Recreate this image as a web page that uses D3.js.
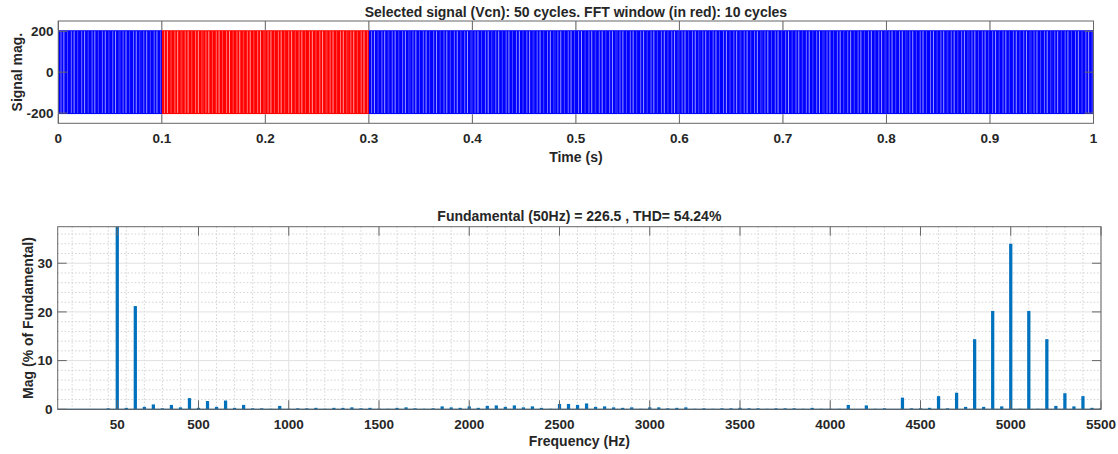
<!DOCTYPE html>
<html>
<head>
<meta charset="utf-8">
<script src="https://cdn.jsdelivr.net/npm/d3@7/dist/d3.min.js"></script>
<style>
  body { margin: 0; background: #fff; }
  text { font-family: "Liberation Sans", Arial, Helvetica, sans-serif; font-weight: bold; fill: #262626; }
</style>
</head>
<body>
<svg id="chart" width="1118" height="454"></svg>
<script>
// ---------- Data ----------
const timeTicks = [0, 0.1, 0.2, 0.3, 0.4, 0.5, 0.6, 0.7, 0.8, 0.9, 1];
const signalTicks = [-200, 0, 200];
const signalLevels = [-200, 200];
const fundamentalHz = 50;
const cycleCount = 50;
const fftWindow = [0.1, 0.3];            // seconds, drawn in red
// light stripes inside one 20 ms cycle (ms) and how bright they look
const gapOffsetsMs = [2.6, 5.4, 8.9, 12.6, 15.3, 18.7];
const gapStrength = [0.45, 0.6, 0.3, 0.45, 0.6, 0.3];

const freqTicks = [50, 500, 1000, 1500, 2000, 2500, 3000, 3500, 4000, 4500, 5000, 5500];
const magTicks = [0, 10, 20, 30];
const binStepHz = 50;
// harmonic magnitude (% of fundamental), one per 50 Hz bin from 0 to 5500 Hz
const harmonicMag = [
  0.2, 100, 0.3, 21.2, 0.5, 1.0, 0.2, 0.9, 0.4, 2.3,   // 0 - 450
  0.3, 1.7, 0.5, 1.8, 0.3, 0.9, 0.2, 0.2, 0.1, 0.7,    // 500 - 950
  0.1, 0.2, 0.2, 0.3, 0.1, 0.3, 0.3, 0.4, 0.2, 0.3,    // 1000 - 1450
  0.1, 0.1, 0.3, 0.4, 0.2, 0.1, 0.2, 0.6, 0.4, 0.3,    // 1500 - 1950
  0.6, 0.3, 0.7, 0.8, 0.5, 0.8, 0.4, 0.6, 0.3, 0.1,    // 2000 - 2450
  1.1, 1.1, 0.9, 1.2, 0.5, 0.6, 0.4, 0.3, 0.4, 0.1,    // 2500 - 2950
  0.4, 0.4, 0.2, 0.3, 0.4, 0.1, 0.2, 0.1, 0.2, 0.2,    // 3000 - 3450
  0.3, 0.2, 0.2, 0.1, 0.2, 0.2, 0.2, 0.1, 0.3, 0.1,    // 3500 - 3950
  0.1, 0.1, 0.9, 0.05, 0.8, 0.1, 0.2, 0.05, 2.4, 0.2,  // 4000 - 4450
  0.2, 0.3, 2.7, 0.2, 3.4, 0.5, 14.4, 0.5, 20.2, 0.6,  // 4500 - 4950
  34.0, 0.1, 20.2, 0.1, 14.4, 0.7, 3.3, 0.6, 2.7, 0.3, // 5000 - 5450
  0.2                                                  // 5500
];
const harmonicHz = harmonicMag.map((_, i) => i * binStepHz);

// ---------- Setup ----------
const svg = d3.select('#chart');
const boxColor = '#666666';
const gridColor = '#e1e1e1';
const minorColor = '#d2d2d2';
const tickLen = 9;
const tickFont = 13.5;
const labelFont = 14;

// =================== Top: time signal ===================
const topBox = { left: 58.3, right: 1093.5, top: 21, bottom: 123.3 };
const xT = d3.scaleLinear().domain([0, 1]).range([topBox.left, topBox.right]);
const yT = d3.scaleLinear().domain([-250, 250]).range([topBox.bottom, topBox.top]);

const gTop = svg.append('g');

// grid
gTop.append('g').selectAll('line').data(timeTicks).join('line')
  .attr('x1', d => xT(d)).attr('x2', d => xT(d))
  .attr('y1', topBox.top).attr('y2', topBox.bottom)
  .attr('stroke', gridColor);
gTop.append('g').selectAll('line').data(signalTicks).join('line')
  .attr('x1', topBox.left).attr('x2', topBox.right)
  .attr('y1', d => yT(d)).attr('y2', d => yT(d))
  .attr('stroke', gridColor);

// signal band, one block per cycle
const cycleSec = 1 / fundamentalHz;
const cycles = d3.range(cycleCount).map(i => i * cycleSec);
const inWindow = t => t >= fftWindow[0] - 1e-9 && t < fftWindow[1] - 1e-9;

gTop.append('g').selectAll('rect').data(cycles).join('rect')
  .attr('x', d => xT(d))
  .attr('width', xT(cycleSec) - xT(0) + 0.3)
  .attr('y', yT(signalLevels[1]) - 1)
  .attr('height', yT(signalLevels[0]) - yT(signalLevels[1]) + 2)
  .attr('fill', d => inWindow(d) ? '#ff0000' : '#0000ff');

// light stripes where the PWM pulses are long
const gaps = [];
cycles.forEach(c => gapOffsetsMs.forEach((o, k) => gaps.push({ t: c + o / 1000, a: gapStrength[k] })));
gTop.append('g').selectAll('line').data(gaps).join('line')
  .attr('x1', d => xT(d.t)).attr('x2', d => xT(d.t))
  .attr('y1', yT(signalLevels[1])).attr('y2', yT(signalLevels[0]))
  .attr('stroke', '#ffffff')
  .attr('stroke-opacity', d => d.a)
  .attr('stroke-width', 1);

// ticks (inside) and box
gTop.append('g').selectAll('path').data(timeTicks).join('path')
  .attr('d', d => `M${xT(d)},${topBox.bottom}v${-tickLen}M${xT(d)},${topBox.top}v${tickLen}`)
  .attr('stroke', boxColor);
gTop.append('g').selectAll('path').data(signalTicks).join('path')
  .attr('d', d => `M${topBox.left},${yT(d)}h${tickLen}M${topBox.right},${yT(d)}h${-tickLen}`)
  .attr('stroke', boxColor);
gTop.append('rect')
  .attr('x', topBox.left).attr('y', topBox.top)
  .attr('width', topBox.right - topBox.left).attr('height', topBox.bottom - topBox.top)
  .attr('fill', 'none').attr('stroke', boxColor);

// labels
gTop.append('g').selectAll('text').data(timeTicks).join('text')
  .attr('x', d => xT(d)).attr('y', 143)
  .attr('text-anchor', 'middle').attr('font-size', tickFont)
  .text(d => d3.format('~g')(d));
gTop.append('g').selectAll('text').data(signalTicks).join('text')
  .attr('x', 53.5).attr('y', d => yT(d)).attr('dy', '0.36em')
  .attr('text-anchor', 'end').attr('font-size', tickFont)
  .text(d => d);
gTop.append('text')
  .attr('x', (topBox.left + topBox.right) / 2).attr('y', 16.5)
  .attr('text-anchor', 'middle').attr('font-size', labelFont)
  .text('Selected signal (Vcn): 50 cycles. FFT window (in red): 10 cycles');
gTop.append('text')
  .attr('x', (topBox.left + topBox.right) / 2).attr('y', 162)
  .attr('text-anchor', 'middle').attr('font-size', labelFont)
  .text('Time (s)');
gTop.append('text')
  .attr('transform', `translate(21.5,${(topBox.top + topBox.bottom) / 2}) rotate(-90)`)
  .attr('text-anchor', 'middle').attr('font-size', labelFont)
  .text('Signal mag.');

// =================== Bottom: spectrum ===================
const botBox = { left: 57.7, right: 1101, top: 226.7, bottom: 409.3 };
const xB = d3.scaleLinear().domain([-280, 5500]).range([botBox.left, botBox.right]);
const yB = d3.scaleLinear().domain([0, 37.5]).range([botBox.bottom, botBox.top]);

const gBot = svg.append('g');

// minor grid
const minorX = d3.range(-200, 5500, 100).filter(f => !freqTicks.includes(f));
const minorY = d3.range(2, 37.5, 2).filter(v => !magTicks.includes(v));
gBot.append('g').selectAll('line').data(minorX).join('line')
  .attr('x1', d => xB(d)).attr('x2', d => xB(d))
  .attr('y1', botBox.top).attr('y2', botBox.bottom)
  .attr('stroke', minorColor).attr('stroke-dasharray', '1.5,2');
gBot.append('g').selectAll('line').data(minorY).join('line')
  .attr('x1', botBox.left).attr('x2', botBox.right)
  .attr('y1', d => yB(d)).attr('y2', d => yB(d))
  .attr('stroke', minorColor).attr('stroke-dasharray', '1.5,2');

// major grid
gBot.append('g').selectAll('line').data(freqTicks).join('line')
  .attr('x1', d => xB(d)).attr('x2', d => xB(d))
  .attr('y1', botBox.top).attr('y2', botBox.bottom)
  .attr('stroke', gridColor);
gBot.append('g').selectAll('line').data(magTicks).join('line')
  .attr('x1', botBox.left).attr('x2', botBox.right)
  .attr('y1', d => yB(d)).attr('y2', d => yB(d))
  .attr('stroke', gridColor);

// bars
svg.append('clipPath').attr('id', 'botClip')
  .append('rect')
  .attr('x', botBox.left).attr('y', botBox.top)
  .attr('width', botBox.right - botBox.left).attr('height', botBox.bottom - botBox.top);

const barHalf = 9; // Hz
gBot.append('g').attr('clip-path', 'url(#botClip)')
  .selectAll('rect').data(harmonicHz.map((f, i) => ({ f, v: harmonicMag[i] }))).join('rect')
  .attr('x', d => xB(d.f - barHalf))
  .attr('width', xB(barHalf) - xB(-barHalf))
  .attr('y', d => yB(d.v))
  .attr('height', d => yB(0) - yB(d.v))
  .attr('fill', '#0072bd');

// baseline
gBot.append('line')
  .attr('x1', botBox.left).attr('x2', botBox.right)
  .attr('y1', yB(0)).attr('y2', yB(0))
  .attr('stroke', '#1f5f8f').attr('stroke-width', 1.3);

// ticks and box
gBot.append('g').selectAll('path').data(freqTicks).join('path')
  .attr('d', d => `M${xB(d)},${botBox.bottom}v${-tickLen}M${xB(d)},${botBox.top}v${tickLen}`)
  .attr('stroke', boxColor);
gBot.append('g').selectAll('path').data(magTicks).join('path')
  .attr('d', d => `M${botBox.left},${yB(d)}h${tickLen}M${botBox.right},${yB(d)}h${-tickLen}`)
  .attr('stroke', boxColor);
gBot.append('rect')
  .attr('x', botBox.left).attr('y', botBox.top)
  .attr('width', botBox.right - botBox.left).attr('height', botBox.bottom - botBox.top)
  .attr('fill', 'none').attr('stroke', boxColor);

// labels
gBot.append('g').selectAll('text').data(freqTicks).join('text')
  .attr('x', d => xB(d)).attr('y', 428.8)
  .attr('text-anchor', 'middle').attr('font-size', tickFont)
  .text(d => d);
gBot.append('g').selectAll('text').data(magTicks).join('text')
  .attr('x', 52.5).attr('y', d => yB(d)).attr('dy', '0.36em')
  .attr('text-anchor', 'end').attr('font-size', tickFont)
  .text(d => d);
gBot.append('text')
  .attr('x', (botBox.left + botBox.right) / 2).attr('y', 220.5)
  .attr('text-anchor', 'middle').attr('font-size', labelFont)
  .text('Fundamental (50Hz) = 226.5 , THD= 54.24%');
gBot.append('text')
  .attr('x', (botBox.left + botBox.right) / 2).attr('y', 446)
  .attr('text-anchor', 'middle').attr('font-size', labelFont)
  .text('Frequency (Hz)');
gBot.append('text')
  .attr('transform', `translate(33,${(botBox.top + botBox.bottom) / 2}) rotate(-90)`)
  .attr('text-anchor', 'middle').attr('font-size', labelFont)
  .text('Mag (% of Fundamental)');
</script>
</body>
</html>
